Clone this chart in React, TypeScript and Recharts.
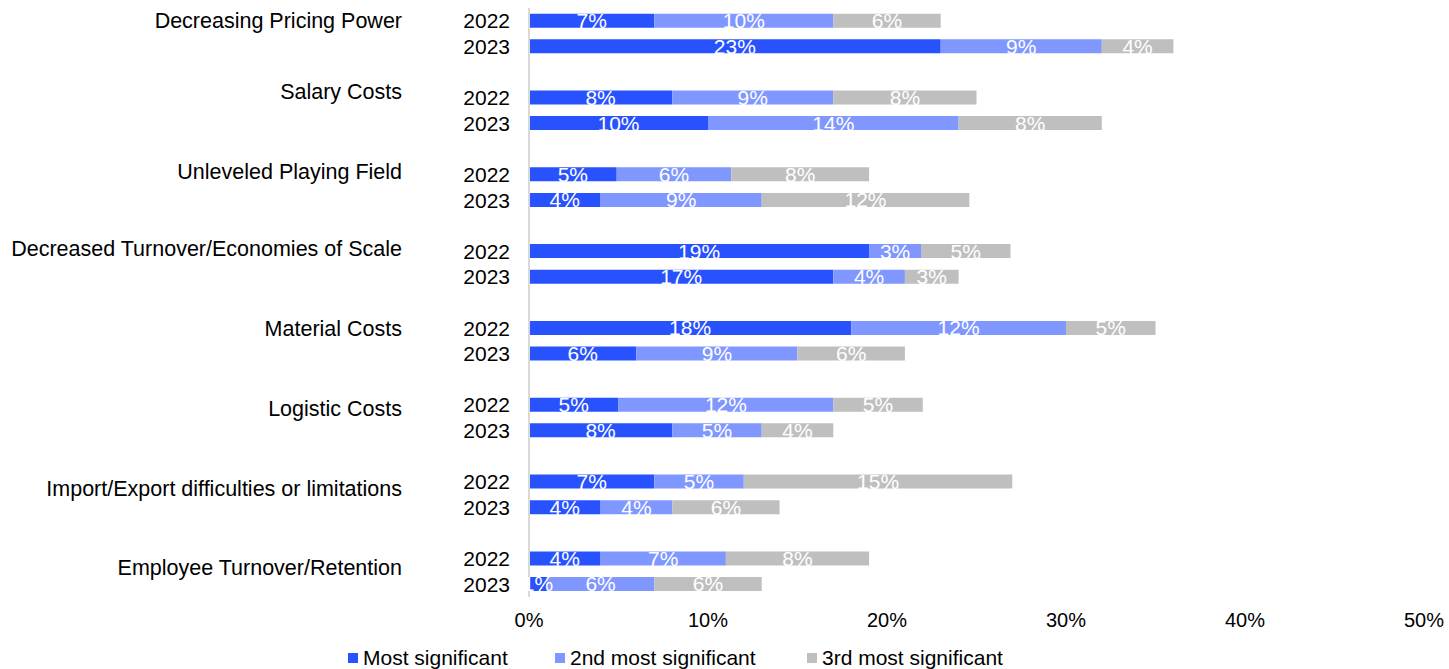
import { Bar, BarChart, LabelList, Legend, XAxis, YAxis } from "recharts";

const FONT = '"Liberation Sans", Arial, sans-serif';

const categories = [
  "Decreasing Pricing Power",
  "Salary Costs",
  "Unleveled Playing Field",
  "Decreased Turnover/Economies of Scale",
  "Material Costs",
  "Logistic Costs",
  "Import/Export difficulties or limitations",
  "Employee Turnover/Retention",
];
const years = ["2022", "2023"];

// one [2022, 2023] pair per category, in %
const most = [[7, 23], [8, 10], [4.9, 4], [19, 17], [18, 6], [5, 8], [7, 4], [4, 1]];
const second = [[10, 9], [9, 14], [6.4, 9], [2.9, 4], [12, 9], [12, 5], [5, 4], [7, 6]];
const third = [[6, 4], [8, 8], [7.7, 11.6], [5, 3], [5, 6], [5, 4], [15, 6], [8, 6]];

const seriesNames = ["Most significant", "2nd most significant", "3rd most significant"];
const xTicks = [0, 10, 20, 30, 40, 50];

const COLORS = ["#2952FF", "#7F97FF", "#BFBFBF"];
// small vertical nudge of the group label vs. its 2022 row (Excel-ish placement)
const labelNudge = [0, -6, -3, -3, 0, 3, 7, 9];
const legendItemWidths = [207, 252, 220];

type Row = {
  key: string;
  cat: string;
  year: string;
  group: number;
  most?: number;
  second?: number;
  third?: number;
};

const rows: Row[] = [];
categories.forEach((cat, i) => {
  years.forEach((year, j) => {
    rows.push({
      key: `${cat}|${year}`,
      cat,
      year,
      group: i,
      most: most[i][j],
      second: second[i][j],
      third: third[i][j],
    });
  });
  if (i < categories.length - 1) rows.push({ key: `gap${i}`, cat: "", year: "", group: i });
});

const pct = (v: any) => (v == null ? "" : `${Math.round(Number(v))}%`);

function CategoryTick(props: any) {
  const { x, y, payload } = props;
  const row = rows.find((r) => r.key === payload.value);
  if (!row || !row.year) return null;
  return (
    <g>
      <text x={x} y={y} dy="0.355em" textAnchor="end" fontSize={21} fontFamily={FONT} fill="#000">
        {row.year}
      </text>
      {row.year === years[0] && (
        <text
          x={x - 108}
          y={y + labelNudge[row.group]}
          dy="0.355em"
          textAnchor="end"
          fontSize={21.5}
          fontFamily={FONT}
          fill="#000"
        >
          {row.cat}
        </text>
      )}
    </g>
  );
}

function renderLegend() {
  return (
    <div
      style={{
        display: "flex",
        alignItems: "center",
        height: 22,
        fontFamily: FONT,
        fontSize: 21,
        color: "#000",
        whiteSpace: "nowrap",
      }}
    >
      {seriesNames.map((name, i) => (
        <div key={name} style={{ display: "flex", alignItems: "center", width: legendItemWidths[i] }}>
          <span style={{ width: 10, height: 10, background: COLORS[i], marginRight: 5, display: "inline-block" }} />
          <span>{name}</span>
        </div>
      ))}
    </div>
  );
}

export default function App() {
  const keys = ["most", "second", "third"];
  return (
    <div style={{ position: "absolute", left: 0, top: 0, background: "#fff" }}>
      <BarChart
        width={1449}
        height={669}
        data={rows}
        layout="vertical"
        margin={{ top: 8, right: 25, bottom: 20, left: 0 }}
        barCategoryGap="22%"
      >
        <XAxis
          type="number"
          domain={[0, 50]}
          ticks={xTicks}
          tickFormatter={(v) => `${v}%`}
          axisLine={false}
          tickLine={false}
          tickSize={0}
          tickMargin={16}
          height={30}
          tick={{ fontSize: 20, fontFamily: FONT, fill: "#000" }}
        />
        <YAxis
          type="category"
          dataKey="key"
          width={529}
          axisLine={{ stroke: "#D9D9D9", strokeWidth: 2 }}
          tickLine={false}
          tickSize={0}
          tickMargin={19}
          interval={0}
          tick={<CategoryTick />}
        />
        <Legend
          content={renderLegend}
          wrapperStyle={{ left: 348, bottom: 0, width: 720 }}
        />
        {keys.map((k, i) => (
          <Bar key={k} dataKey={k} name={seriesNames[i]} stackId="a" fill={COLORS[i]} isAnimationActive={false}>
            <LabelList
              dataKey={k}
              position="center"
              formatter={pct}
              fill="#fff"
              fontSize={21}
              fontFamily={FONT}
            />
          </Bar>
        ))}
      </BarChart>
    </div>
  );
}
